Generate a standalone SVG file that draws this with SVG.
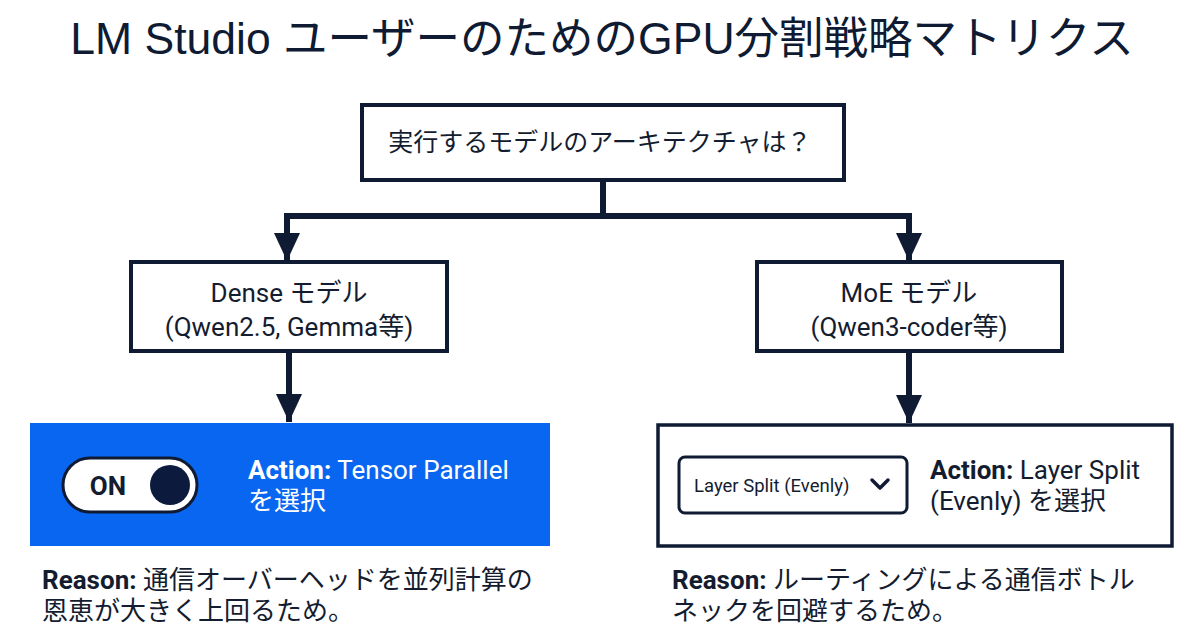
<svg xmlns="http://www.w3.org/2000/svg" width="1200" height="642" viewBox="0 0 1200 642">
<style>
text{font-family:Roboto,"Noto Sans CJK JP",sans-serif;fill:#141c30}
.title{font-family:"Liberation Sans","Noto Sans CJK JP",sans-serif;font-size:44.5px;fill:#0f1a33}
.box{fill:#fff;stroke:#0f1a33;stroke-width:4}
.t{font-size:26px;text-anchor:middle}
.a{font-size:26px}
.b{font-weight:bold}
.w{fill:#fff}
.line{stroke:#0f1a33;stroke-width:6;fill:none}
</style>
<defs>
<marker id="arr" markerUnits="userSpaceOnUse" markerWidth="30" markerHeight="26" refX="28" refY="13" orient="auto">
<path d="M0,0 L28,13 L0,26 Z" fill="#0f1a33"/>
</marker>
</defs>
<rect width="1200" height="642" fill="#fff"/>
<text class="title" x="602" y="54" text-anchor="middle">LM Studio ユーザーのためのGPU分割戦略マトリクス</text>

<g id="connectors">
<path class="line" d="M603,181 V216"/>
<path class="line" d="M284,216 H912"/>
<path class="line" d="M287,213 V261" marker-end="url(#arr)"/>
<path class="line" d="M909,213 V261" marker-end="url(#arr)"/>
<path class="line" d="M289,352 V422" marker-end="url(#arr)"/>
<path class="line" d="M909,352 V423" marker-end="url(#arr)"/>
</g>

<g id="root">
<rect class="box" x="362" y="105" width="482" height="75"/>
<text class="t" x="600" y="151" style="font-size:25px">実行するモデルのアーキテクチャは？</text>
</g>

<g id="dense">
<rect class="box" x="131" y="262" width="316" height="89"/>
<text class="t" x="289" y="302">Dense モデル</text>
<text class="t" x="289" y="336">(Qwen2.5, Gemma等)</text>
</g>

<g id="moe">
<rect class="box" x="757" y="262" width="305" height="89"/>
<text class="t" x="909" y="302">MoE モデル</text>
<text class="t" x="909" y="336">(Qwen3-coder等)</text>
</g>

<g id="tensor">
<rect x="30" y="423" width="520" height="123" fill="#0866f0"/>
<rect x="63" y="458" width="134" height="54" rx="27" fill="#fff" stroke="#0f1a33" stroke-width="3"/>
<circle cx="170" cy="485" r="20" fill="#0c1a3e"/>
<text x="108" y="495" text-anchor="middle" style="font-size:26px;font-weight:bold">ON</text>
<text class="a w" x="248" y="479"><tspan class="b w">Action:</tspan> Tensor Parallel</text>
<text class="a w" x="248" y="510">を選択</text>
</g>

<g id="layer">
<rect x="658" y="425" width="514" height="121" fill="#fff" stroke="#0f1a33" stroke-width="3.5"/>
<rect x="679" y="457" width="228" height="56" rx="6" fill="#fff" stroke="#0f1a33" stroke-width="3"/>
<text x="694" y="492" style="font-size:18.5px">Layer Split (Evenly)</text>
<path d="M872,480 L880,488 L888,480" fill="none" stroke="#0f1a33" stroke-width="3.5" stroke-linecap="round" stroke-linejoin="round"/>
<text class="a" x="930" y="479"><tspan class="b">Action:</tspan> Layer Split</text>
<text class="a" x="930" y="510">(Evenly) を選択</text>
</g>

<g id="reason-left">
<text class="a" x="42" y="589"><tspan class="b">Reason:</tspan> 通信オーバーヘッドを並列計算の</text>
<text class="a" x="42" y="620">恩恵が大きく上回るため。</text>
</g>

<g id="reason-right">
<text class="a" x="672" y="589"><tspan class="b">Reason:</tspan> ルーティングによる通信ボトル</text>
<text class="a" x="672" y="620">ネックを回避するため。</text>
</g>
</svg>
